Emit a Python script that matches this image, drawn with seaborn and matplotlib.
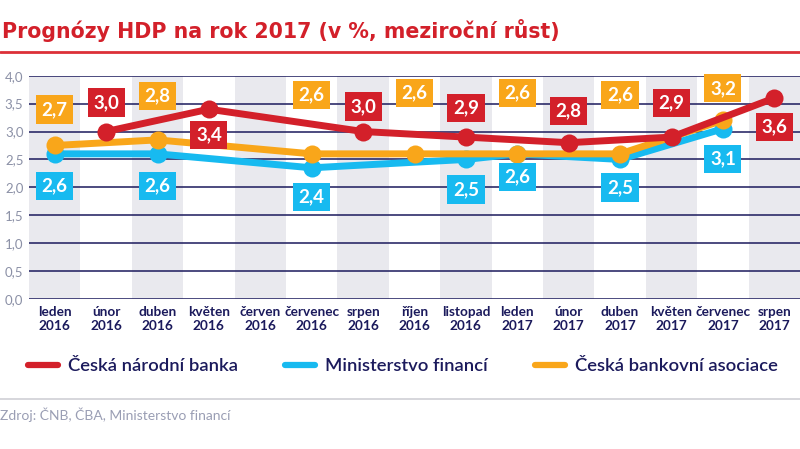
import numpy as np
import pandas as pd
import matplotlib
matplotlib.use("Agg")
import matplotlib.pyplot as plt
from matplotlib.lines import Line2D
import seaborn as sns

categories = ["leden\n2016", "únor\n2016", "duben\n2016", "květen\n2016", "červen\n2016",
              "červenec\n2016", "srpen\n2016", "říjen\n2016", "listopad\n2016", "leden\n2017",
              "únor\n2017", "duben\n2017", "květen\n2017", "červenec\n2017", "srpen\n2017"]

cnb = [None, 3.0, None, 3.4, None, None, 3.0, None, 2.9, None, 2.8, None, 2.9, None, 3.6]
mf = [2.6, None, 2.6, None, None, 2.35, None, None, 2.5, 2.6, None, 2.5, None, 3.05, None]
cba = [2.75, None, 2.85, None, None, 2.6, None, 2.6, None, 2.6, None, 2.6, None, 3.2, None]

cnb_labels = [None, "3,0", None, "3,4", None, None, "3,0", None, "2,9", None, "2,8", None, "2,9", None, "3,6"]
mf_labels = ["2,6", None, "2,6", None, None, "2,4", None, None, "2,5", "2,6", None, "2,5", None, "3,1", None]
cba_labels = ["2,7", None, "2,8", None, None, "2,6", None, "2,6", None, "2,6", None, "2,6", None, "3,2", None]

series_names = ["Česká národní banka", "Ministerstvo financí", "Česká bankovní asociace"]
yticks = [0.0, 0.5, 1.0, 1.5, 2.0, 2.5, 3.0, 3.5, 4.0]

# label offsets in pixels (style only)
cnb_off = [None, 29, None, -26, None, None, 25, None, 29, None, 32, None, 34, None, -29]
mf_off = [-32, None, -32, None, None, -29, None, None, -30, -23, None, -28, None, -30, None]
cba_off = [36, None, 44, None, None, 59, None, 61, None, 61, None, 59, None, 32, None]

RED = "#d3202a"
BLUE = "#17baf0"
ORANGE = "#f9a61a"
NAVY = "#1b1a5c"

sns.set_style("white")
plt.rcParams['font.family'] = ['Lato', 'DejaVu Sans']

fig = plt.figure(figsize=(8, 4.49), dpi=100)
ax = fig.add_axes([29 / 800, 1 - 299 / 449, 1 - 29 / 800, (299 - 75.7) / 449])

pos = np.arange(len(categories))
for i in pos[::2]:
    ax.axvspan(i - 0.5, i + 0.5, color="#e9e9ee", zorder=0, lw=0)
for y in yticks:
    ax.axhline(y, color=NAVY, lw=1.1, zorder=1)

order = [(mf, mf_labels, mf_off, BLUE), (cba, cba_labels, cba_off, ORANGE), (cnb, cnb_labels, cnb_off, RED)]
for k, (vals, labs, offs, col) in enumerate(order):
    df = pd.DataFrame({"x": pos, "y": vals}).dropna()
    sns.lineplot(data=df, x="x", y="y", ax=ax, color=col, lw=5, marker="o", markersize=13,
                 markeredgewidth=0, zorder=3 + k)
for k, (vals, labs, offs, col) in enumerate(order):
    for i, (v, t, o) in enumerate(zip(vals, labs, offs)):
        if v is None:
            continue
        ax.annotate(t, (i, v), xytext=(0, o), textcoords="offset pixels", ha="center", va="center",
                    color="white", fontsize=13.5, fontweight="bold", zorder=10,
                    bbox=dict(boxstyle="square,pad=0.3", fc=col, ec="none"))

ax.set_xlim(-0.5, len(categories) - 0.5)
ax.set_ylim(0, 4)
ax.set_yticks(yticks)
ax.set_yticklabels([f"{t:.1f}".replace(".", ",") for t in yticks], color="#8b90a6", fontsize=9.5)
ax.set_xticks(pos)
ax.set_xticklabels(categories, color=NAVY, fontsize=9.8, fontweight="bold", linespacing=1.2)
ax.tick_params(length=0, pad=5)
ax.tick_params(axis="y", pad=4)
ax.set_xlabel("")
ax.set_ylabel("")
for s in ax.spines.values():
    s.set_visible(False)

fig.text(0.003, 1 - 30 / 449, "Prognózy HDP na rok 2017 (v %, meziroční růst)", color=RED,
         fontsize=14.8, fontweight="bold", va="center", ha="left", family="DejaVu Sans")
fig.add_artist(Line2D([0, 1], [1 - 51.5 / 449, 1 - 51.5 / 449], color="#dc3038", lw=2))

handles = [Line2D([], [], color=c, lw=4.5) for c in (RED, BLUE, ORANGE)]
fig.legend(handles, series_names, loc="center left", bbox_to_anchor=(28 / 800, 1 - 366 / 449), ncol=3,
           frameon=False, handlelength=1.62, handletextpad=0.55, columnspacing=2.55,
           borderpad=0, borderaxespad=0,
           prop={"size": 13.3, "weight": "semibold"}, labelcolor=NAVY)

fig.add_artist(Line2D([0, 1], [1 - 398.5 / 449, 1 - 398.5 / 449], color="#cfd0d6", lw=1.2))
fig.text(0.0, 1 - 415 / 449, "Zdroj: ČNB, ČBA, Ministerstvo financí", color="#9a9eb4",
         fontsize=10, va="center", ha="left")

fig.savefig("out.png", dpi=100)
